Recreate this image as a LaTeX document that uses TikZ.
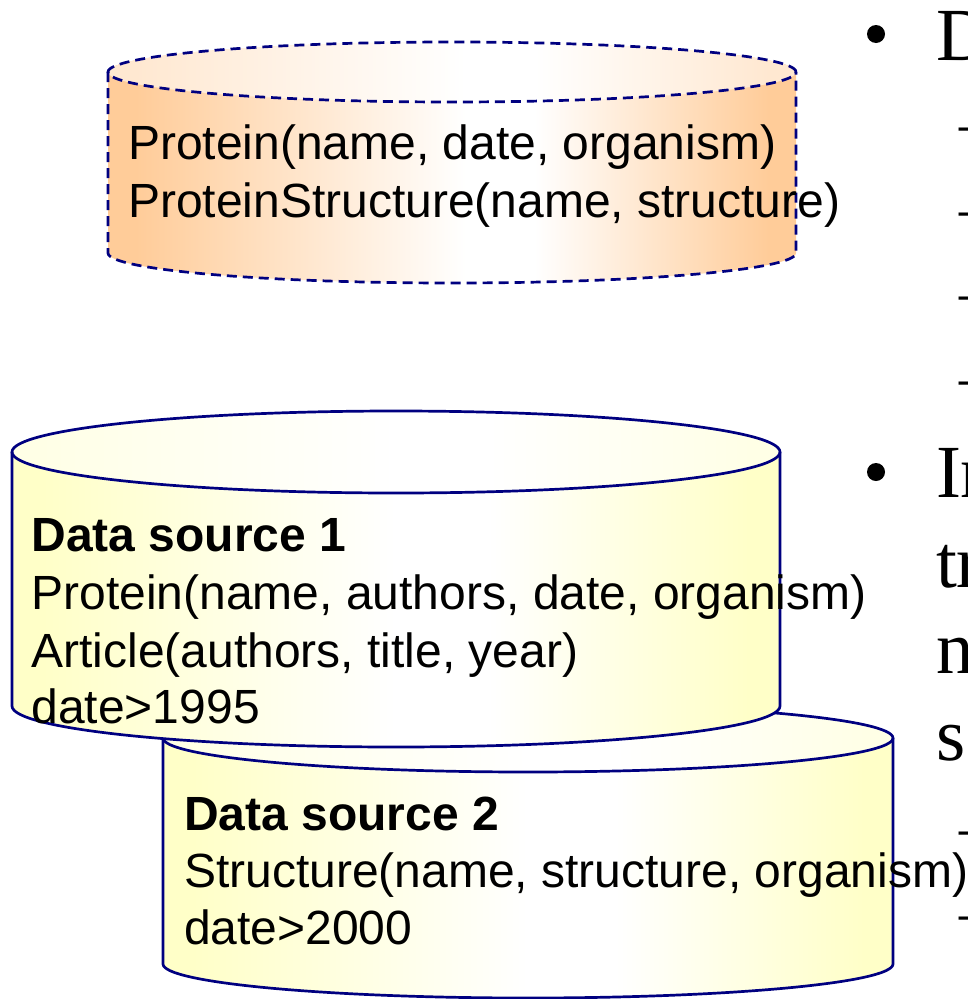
\documentclass[tikz,border=0pt]{standalone}
\usepackage{fontspec}
\setmainfont{Liberation Sans}
\newfontfamily\slideserif{Liberation Serif}

\definecolor{peach}{HTML}{FFCC99}
\definecolor{cream}{HTML}{FFFFC8}
\definecolor{navyline}{HTML}{000080}
\colorlet{peachlid}{peach!45!white}
\colorlet{creamlid}{cream!45!white}

% side-to-side fades: tinted at the rims, white in the middle
\pgfdeclarehorizontalshading{peachfade}{100bp}{color(0bp)=(peach); color(27bp)=(peach); color(51bp)=(white); color(56bp)=(white); color(73bp)=(peach); color(100bp)=(peach)}
\pgfdeclarehorizontalshading{peachlidfade}{100bp}{color(0bp)=(peachlid); color(27bp)=(peachlid); color(51bp)=(white); color(56bp)=(white); color(73bp)=(peachlid); color(100bp)=(peachlid)}
\pgfdeclarehorizontalshading{creamfade}{100bp}{color(0bp)=(cream); color(27bp)=(cream); color(50bp)=(white); color(56bp)=(white); color(73bp)=(cream); color(100bp)=(cream)}
\pgfdeclarehorizontalshading{creamlidfade}{100bp}{color(0bp)=(creamlid); color(27bp)=(creamlid); color(50bp)=(white); color(56bp)=(white); color(73bp)=(creamlid); color(100bp)=(creamlid)}

\tikzset{
  rimline/.style={draw=navyline, line width=2.7pt, line join=round},
  dashrim/.style={rimline, dash pattern=on 10pt off 6pt},
  rowtext/.style={anchor=base west, inner sep=0pt, outer sep=0pt, font=\fontsize{48}{57}\selectfont},
  boldrow/.style={rowtext, font=\fontsize{48}{57}\selectfont\bfseries},
  bigserif/.style={anchor=base west, inner sep=0pt, outer sep=0pt, font=\slideserif\fontsize{75}{88}\selectfont},
  subdash/.style={anchor=base west, inner sep=0pt, outer sep=0pt, font=\slideserif\fontsize{64}{76}\selectfont},
  bulletdot/.style={circle, fill=black, inner sep=0pt, minimum size=18pt}
}

\begin{document}
\begin{tikzpicture}[x=1pt, y=1pt]
\useasboundingbox (0,0) rectangle (967,-999);
\clip (0,0) rectangle (967,-999);

% ---------- mediated schema (dashed drum) ----------
\shade[shading=peachfade] (108,-72) -- (108,-253)
  arc[start angle=180, end angle=360, x radius=344, y radius=30] -- (796,-72)
  arc[start angle=0, end angle=180, x radius=344, y radius=30] -- cycle;
\shade[shading=peachlidfade] (452,-72) ellipse[x radius=344, y radius=30];
\draw[dashrim] (452,-72) ellipse[x radius=344, y radius=30];
\draw[dashrim] (108,-72) -- (108,-253)
  arc[start angle=180, end angle=360, x radius=344, y radius=30] -- (796,-72);
\node[rowtext] (med1) at (128,-159) {Protein(name, date, organism)};
\node[rowtext] (med2) at (128,-217) {ProteinStructure(name, structure)};

% ---------- data source 2 (behind) ----------
\shade[shading=creamfade] (163,-738) -- (163,-964)
  arc[start angle=180, end angle=360, x radius=365, y radius=34] -- (893,-738)
  arc[start angle=0, end angle=180, x radius=365, y radius=34] -- cycle;
\shade[shading=creamlidfade] (528,-738) ellipse[x radius=365, y radius=34];
\draw[rimline] (528,-738) ellipse[x radius=365, y radius=34];
\draw[rimline] (163,-738) -- (163,-964)
  arc[start angle=180, end angle=360, x radius=365, y radius=34] -- (893,-738);
\node[boldrow] (dsb0) at (184,-830) {Data source 2};
\node[rowtext] (dsb1) at (184,-887) {Structure(name, structure, organism)};
\node[rowtext] (dsb2) at (184,-944) {date>2000};

% ---------- data source 1 (front) ----------
\shade[shading=creamfade] (12,-452) -- (12,-706)
  arc[start angle=180, end angle=360, x radius=384, y radius=41] -- (780,-452)
  arc[start angle=0, end angle=180, x radius=384, y radius=41] -- cycle;
\shade[shading=creamlidfade] (396,-452) ellipse[x radius=384, y radius=41];
\draw[rimline] (396,-452) ellipse[x radius=384, y radius=41];
\draw[rimline] (12,-452) -- (12,-706)
  arc[start angle=180, end angle=360, x radius=384, y radius=41] -- (780,-452);
\node[boldrow] (dsa0) at (31.5,-551) {Data source 1};
\node[rowtext] (dsa1) at (31.5,-609) {Protein(name, authors, date, organism)};
\node[rowtext] (dsa2) at (31.5,-667) {Article(authors, title, year)};
\node[rowtext] (dsa3) at (31.5,-723) {date>1995};

% ---------- bulleted slide text along the right edge ----------
\node[bulletdot] (dotA) at (876,-34) {};
\node[bigserif] (lineA) at (936,-60) {D};
\node[subdash] (subA1) at (959,-144) {–};
\node[subdash] (subA2) at (959,-229) {–};
\node[subdash] (subA3) at (959,-313) {–};
\node[subdash] (subA4) at (959,-398) {–};

\node[bulletdot] (dotB) at (876,-472) {};
\node[bigserif] (lineB1) at (936,-497) {In};
\node[bigserif] (lineB2) at (936,-587) {tr};
\node[bigserif] (lineB3) at (936,-673) {n};
\node[bigserif] (lineB4) at (936,-760) {s};
\node[subdash] (subB1) at (959,-848) {–};
\node[subdash] (subB2) at (959,-933) {–};
\end{tikzpicture}
\end{document}
